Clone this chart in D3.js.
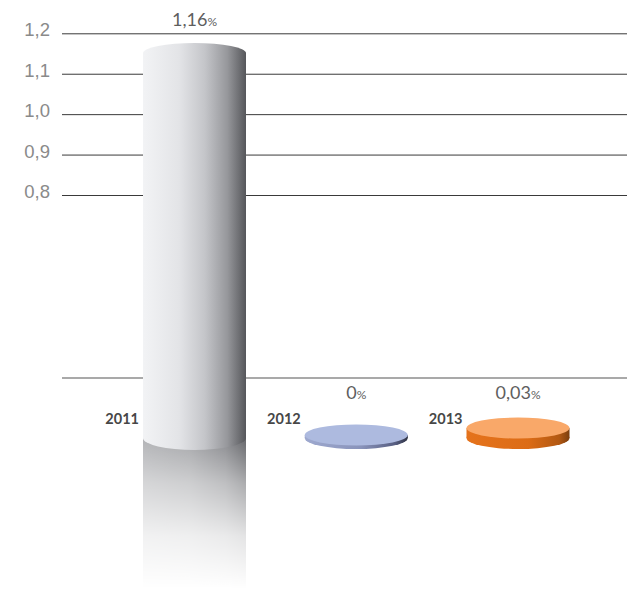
<!DOCTYPE html>
<html>
<head>
<meta charset="utf-8">
<script src="https://cdn.jsdelivr.net/npm/d3@7"></script>
<style>
  html, body { margin: 0; padding: 0; background: #fff; }
  svg { display: block; font-family: Lato, "Open Sans", sans-serif; }
</style>
</head>
<body>
<svg id="chart" width="627" height="589"></svg>
<script>
// Inflation by year, in percent
const years = ["2011", "2012", "2013"];
const values = [1.16, 0, 0.03];
const valueLabels = ["1,16", "0", "0,03"];
const tickValues = [0.8, 0.9, 1.0, 1.1, 1.2];

const svg = d3.select("#chart");
const W = 627;
const axisX = 62;
const floorY = 438;      // centre of the base ellipses
const baseLineY = 378;
const colW = 103, ry = 11;

// Upper (broken) axis scale for the grid
const y = d3.scaleLinear().domain([0.8, 1.2]).range([195, 33.3]);
// Height scale for the 3D marks, measured from the floor
const h = d3.scaleLinear().domain([0, 1.16]).range([floorY, 53]);
const x = d3.scalePoint().domain(years).range([194.5, 518]);

const fmt = v => d3.format(".1f")(v).replace(".", ",");

// ---- gradients ----
const defs = svg.append("defs");
function hGrad(id, stops) {
  const g = defs.append("linearGradient").attr("id", id)
    .attr("x1", 0).attr("x2", 1).attr("y1", 0).attr("y2", 0);
  stops.forEach(([o, c]) => g.append("stop").attr("offset", o).attr("stop-color", c));
}
hGrad("barGrad", [[0, "#f2f3f5"], [0.35, "#e3e4e7"], [0.6, "#c4c5c9"], [0.82, "#96979b"], [1, "#56575b"]]);
hGrad("reflGrad", [[0, "#b3b4b7"], [0.45, "#a6a7aa"], [0.8, "#8a8b8f"], [1, "#66676b"]]);
hGrad("side2012", [[0, "#9ea9cf"], [0.55, "#8993ba"], [0.88, "#565d80"], [1, "#2f3345"]]);
hGrad("side2013", [[0, "#e5731c"], [0.6, "#dc6c16"], [0.9, "#b25812"], [1, "#7c3e0d"]]);

const fade = defs.append("linearGradient").attr("id", "fade")
  .attr("x1", 0).attr("x2", 0).attr("y1", 0).attr("y2", 1);
[[0, 1], [0.3, 0.55], [0.65, 0.18], [1, 0]].forEach(([o, a]) =>
  fade.append("stop").attr("offset", o).attr("stop-color", "#fff").attr("stop-opacity", a));
const mask = defs.append("mask").attr("id", "reflMask")
  .attr("maskContentUnits", "objectBoundingBox");
mask.append("rect").attr("width", 1).attr("height", 1).attr("fill", "url(#fade)");

// ---- grid and axis ----
const axis = d3.axisLeft(y).tickValues(tickValues).tickFormat(fmt)
  .tickSize(-(W - axisX)).tickPadding(12);
const gAxis = svg.append("g").attr("transform", `translate(${axisX},0)`).call(axis);
gAxis.select(".domain").remove();
gAxis.selectAll(".tick line").attr("stroke", "#3a3a3a").attr("stroke-width", 1);
gAxis.selectAll(".tick text")
  .attr("dy", "0.14em")
  .attr("fill", "#8a8a8a")
  .style("font-size", "18.5px")
  .style("font-weight", 300);

svg.append("line")
  .attr("x1", axisX).attr("x2", W)
  .attr("y1", baseLineY).attr("y2", baseLineY)
  .attr("stroke", "#8c8c8c").attr("stroke-width", 1.5);

// ---- marks ----
const data = years.map((yr, i) => ({ year: yr, value: values[i], label: valueLabels[i] }));

data.forEach((d, i) => {
  const cx = x(d.year);
  const left = cx - colW / 2;
  const g = svg.append("g");
  if (i === 0) {
    // column with reflection
    const topY = h(d.value);
    g.append("rect")
      .attr("x", left).attr("y", floorY)
      .attr("width", colW).attr("height", 589 - floorY)
      .attr("fill", "url(#reflGrad)")
      .attr("mask", "url(#reflMask)");
    g.append("rect")
      .attr("x", left).attr("y", topY)
      .attr("width", colW).attr("height", floorY - topY)
      .attr("fill", "url(#barGrad)");
    g.append("ellipse")
      .attr("cx", cx).attr("cy", floorY).attr("rx", colW / 2).attr("ry", ry + 1)
      .attr("fill", "url(#barGrad)");
    g.append("ellipse")
      .attr("cx", cx).attr("cy", topY).attr("rx", colW / 2).attr("ry", ry - 1)
      .attr("fill", "url(#barGrad)");
  } else {
    // flat disc whose thickness follows the value
    const thick = Math.max(3, h(0) - h(d.value));
    const topY = floorY - thick;
    const side = i === 1 ? "url(#side2012)" : "url(#side2013)";
    const face = i === 1 ? "#adbadf" : "#f9a869";
    g.append("ellipse")
      .attr("cx", cx).attr("cy", floorY).attr("rx", colW / 2).attr("ry", ry)
      .attr("fill", side);
    g.append("rect")
      .attr("x", left).attr("y", topY)
      .attr("width", colW).attr("height", thick)
      .attr("fill", side);
    g.append("ellipse")
      .attr("cx", cx).attr("cy", topY).attr("rx", colW / 2).attr("ry", ry - 0.5)
      .attr("fill", face);
  }

  // year label, left of the mark
  svg.append("text")
    .attr("x", left - 4).attr("y", 424)
    .attr("text-anchor", "end")
    .attr("fill", "#474747")
    .style("font-size", "14.5px")
    .style("font-weight", 700)
    .text(d.year);

  // value label
  const ly = i === 0 ? 26 : 399;
  const t = svg.append("text")
    .attr("x", cx).attr("y", ly)
    .attr("text-anchor", "middle")
    .attr("fill", "#5e5e5e")
    .style("font-size", "18px")
    .style("font-weight", 400);
  t.append("tspan").text(d.label);
  t.append("tspan").style("font-size", "12px").text("%");
});
</script>
</body>
</html>
